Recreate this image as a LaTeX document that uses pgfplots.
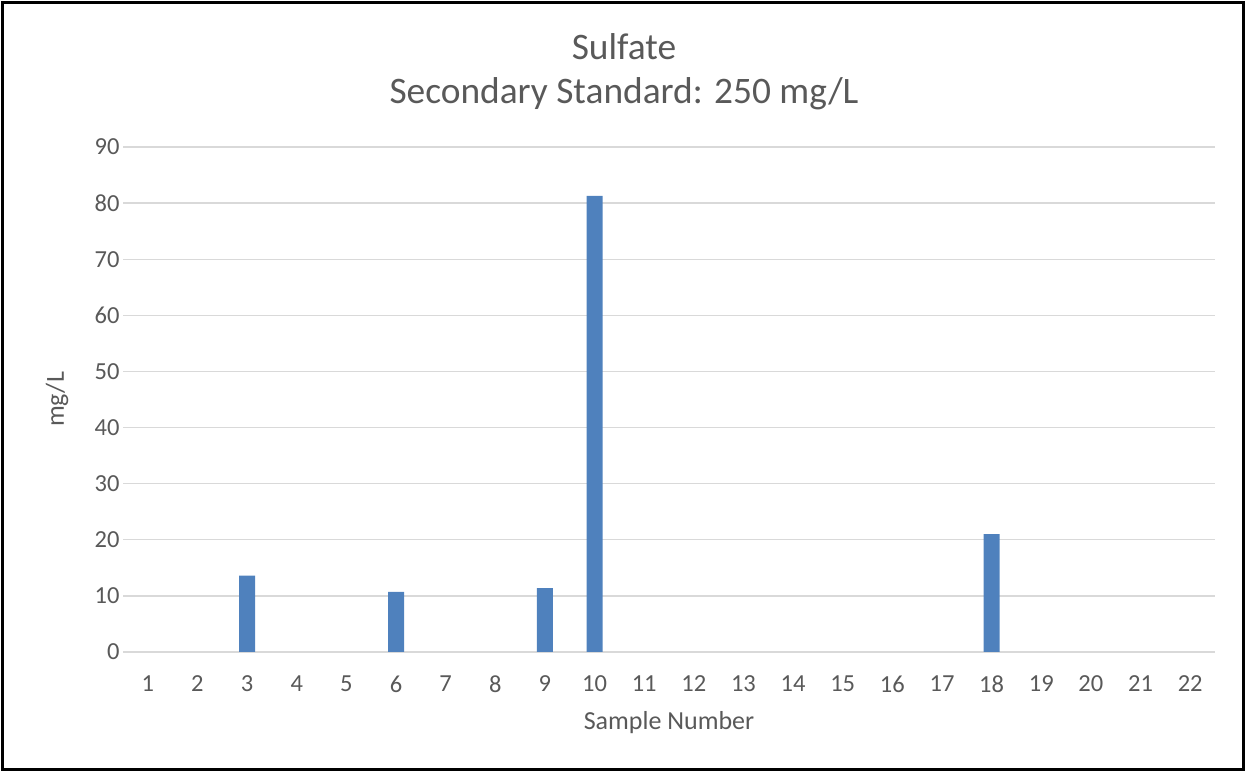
\documentclass[border=0pt]{standalone}
\usepackage{pgfplots}
\pgfplotsset{compat=1.18}
\usepackage{fontspec}
\setmainfont{Carlito}
\definecolor{barblue}{HTML}{4F81BD}
\definecolor{txtgray}{HTML}{595959}
\definecolor{gridgray}{HTML}{D9D9D9}
\begin{document}
\begin{tikzpicture}[x=1bp,y=1bp]
\path[use as bounding box] (0,0) rectangle (1246,772);
\draw[black, line width=2.5bp] (2.5,2.5) rectangle (1243.5,769.5);
\begin{axis}[
  at={(123bp,120bp)}, anchor=south west,
  scale only axis, width=1092bp, height=505bp,
  xmin=0.5, xmax=22.5, ymin=0, ymax=90,
  ytick={0,10,...,90}, xtick={1,...,22},
  ymajorgrids, grid style={gridgray, line width=1.4bp},
  axis line style={draw=none},
  major tick length=0pt,
  tick label style={txtgray, font=\fontsize{24.5bp}{28bp}\selectfont},
  /pgf/number format/assume math mode=true,
  yticklabel style={xshift=0bp},
  xticklabel style={yshift=-20bp},
  xlabel={Sample Number}, ylabel={mg/L},
  label style={txtgray, font=\fontsize{26bp}{30bp}\selectfont},
  xlabel style={at={(axis description cs:0.5,0)}, anchor=center, yshift=-71bp},
  ylabel style={at={(axis description cs:0,0.5)}, anchor=center, rotate=0, yshift=66bp},
  clip=false,
]
\addplot[ybar, bar width=16bp, fill=barblue, draw=none] coordinates {
(3,13.6) (6,10.7) (9,11.4) (10,81.3) (18,21.0)
};
\end{axis}
\node[txtgray, font=\fontsize{37.4bp}{44bp}\selectfont] at (624,725) {Sulfate};
\node[txtgray, font=\fontsize{37.4bp}{44bp}\selectfont] at (624,678) {Secondary Standard: 250 mg/L};
\end{tikzpicture}
\end{document}
